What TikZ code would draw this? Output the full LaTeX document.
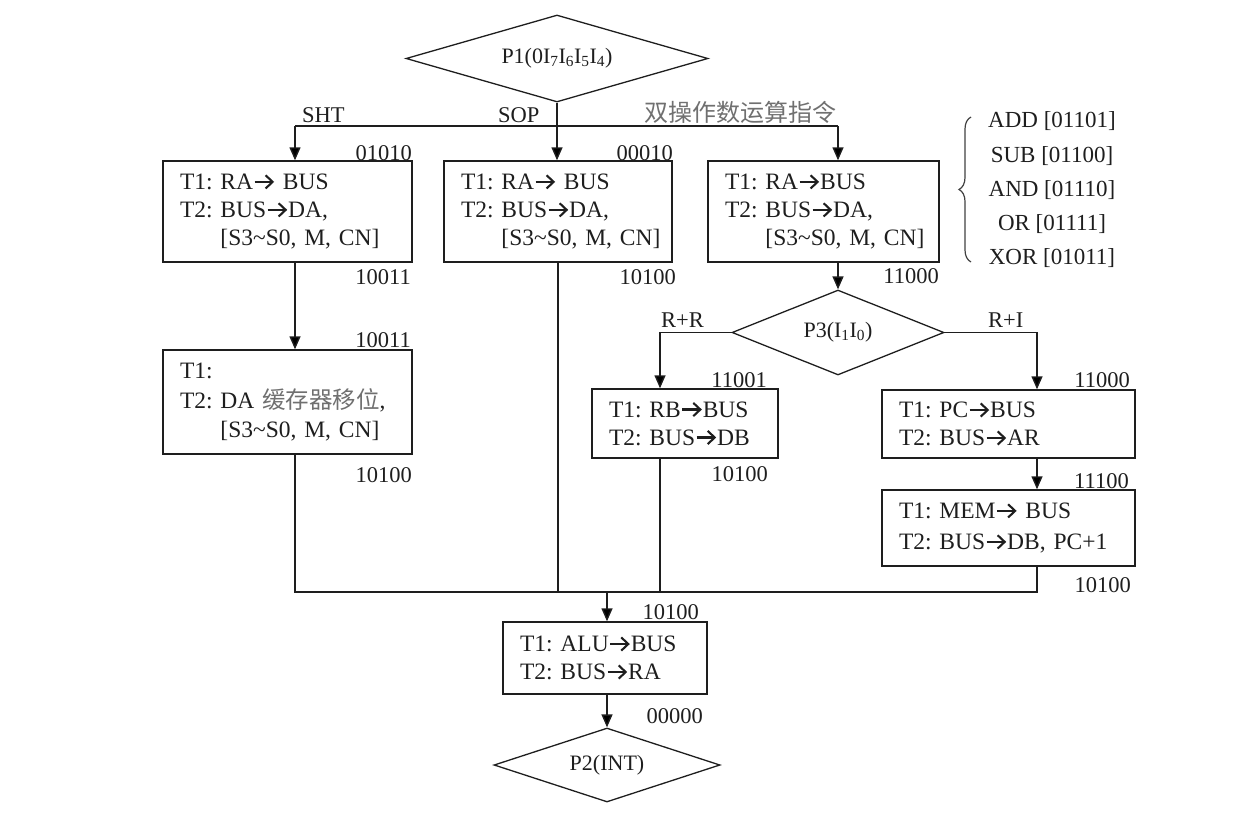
\documentclass[tikz,border=0pt]{standalone}
\usepackage{fontspec}
\setmainfont{Liberation Serif}
\newfontfamily\cjk{Noto Sans CJK SC}
\usetikzlibrary{arrows.meta,shapes.geometric,decorations.pathreplacing}
\definecolor{ink}{HTML}{1E1E1E}
\definecolor{cjkgray}{HTML}{707070}
\newcommand{\rarr}{\tikz[x=1pt,y=1pt,baseline=0pt]{%
  \useasboundingbox (0,0) rectangle (22,15);
  \draw[ink, line width=2.1pt] (1.5,7.6) -- (18.5,7.6);
  \draw[ink, line width=2.1pt, line join=miter] (12.5,14.2) -- (19.5,7.6) -- (12.5,1);}}
\newcommand{\tld}{\textasciitilde}
\frenchspacing
\begin{document}
\begin{tikzpicture}[x=1pt,y=-1pt,
  every node/.style={text=ink},
  box/.style={draw=ink, line width=1.4pt, inner xsep=17pt, inner ysep=0pt, align=left,
    font=\fontsize{23.5}{28}\selectfont\frenchspacing},
  dia/.style={draw=ink, line width=1.3pt, diamond, inner sep=0pt,
    font=\fontsize{22}{26}\selectfont},
  code/.style={inner sep=0pt, anchor=base east, font=\fontsize{22.5}{27}\selectfont},
  lbl/.style={inner sep=0pt, anchor=base west, font=\fontsize{22.5}{27}\selectfont},
  line/.style={draw=ink, line width=1.4pt},
  arr/.style={line, -{Triangle[length=13pt,width=11pt]}}]
\useasboundingbox (0,0) rectangle (1250,819);

% decisions
\node[dia, minimum width=302pt, minimum height=87pt, aspect=3.47] (P1) at (557,58.5) {P1(0I\textsubscript{7}I\textsubscript{6}I\textsubscript{5}I\textsubscript{4})};
\node[dia, minimum width=212pt, minimum height=85pt, aspect=2.49] (P3) at (838,332.5) {P3(I\textsubscript{1}I\textsubscript{0})};
\node[dia, minimum width=226pt, minimum height=74pt, aspect=3.05] (P2) at (607,765) {P2(INT)};

% boxes
\node[box, minimum width=249pt, minimum height=101pt, text width=215pt] (A) at (287.5,211.5)
  {\mbox{T1: RA\rarr{} BUS}\\\mbox{T2: BUS\rarr DA,}\\\mbox{\phantom{T2: }[S3\tld S0, M, CN]}};
\node[box, minimum width=228pt, minimum height=101pt, text width=194pt] (B) at (558,211.5)
  {\mbox{T1: RA\rarr{} BUS}\\\mbox{T2: BUS\rarr DA,}\\\mbox{\phantom{T2: }[S3\tld S0, M, CN]}};
\node[box, minimum width=231pt, minimum height=101pt, text width=197pt] (C) at (823.5,211.5)
  {\mbox{T1: RA\rarr BUS}\\\mbox{T2: BUS\rarr DA,}\\\mbox{\phantom{T2: }[S3\tld S0, M, CN]}};
\node[box, minimum width=249pt, minimum height=104pt, text width=215pt] (D) at (287.5,402)
  {\mbox{T1:}\\[2pt]\mbox{T2: DA {\cjk\color{cjkgray}缓存器移位},}\\[1pt]\mbox{\phantom{T2: }[S3\tld S0, M, CN]}};
\node[box, minimum width=186pt, minimum height=69pt, text width=152pt] (E) at (685,423.5)
  {\mbox{T1: RB\rarr BUS}\\\mbox{T2: BUS\rarr DB}};
\node[box, minimum width=253pt, minimum height=68pt, text width=219pt] (F) at (1008.5,424)
  {\mbox{T1: PC\rarr BUS}\\\mbox{T2: BUS\rarr AR}};
\node[box, minimum width=253pt, minimum height=76pt, text width=219pt] (G) at (1008.5,528)
  {\mbox{T1: MEM\rarr{} BUS}\\[3pt]\mbox{T2: BUS\rarr DB, PC+1}};
\node[box, minimum width=204pt, minimum height=72pt, text width=170pt] (H) at (605,658)
  {\mbox{T1: ALU\rarr BUS}\\\mbox{T2: BUS\rarr RA}};

% branch labels
\node[lbl] (tSHT) at (302,122) {SHT};
\node[lbl] (tSOP) at (498,122) {SOP};
\node[inner sep=0pt, anchor=east, font=\cjk\fontsize{24}{28}\selectfont, text=cjkgray] (tDual) at (837,112) {双操作数运算指令};
\node[lbl] (tRR) at (661,327) {R+R};
\node[lbl] (tRI) at (988,327) {R+I};

% codes
\node[code] (c1) at (412,160) {01010};
\node[code] (c2) at (673,160) {00010};
\node[code] (c3) at (411,284) {10011};
\node[code] (c4) at (676,284) {10100};
\node[code] (c5) at (939,283) {11000};
\node[code] (c6) at (411,347) {10011};
\node[code] (c7) at (412,482) {10100};
\node[code] (c8) at (767,387) {11001};
\node[code] (c9) at (768,481) {10100};
\node[code] (c10) at (1130,387) {11000};
\node[code] (c11) at (1129,488) {11100};
\node[code] (c12) at (1131,592) {10100};
\node[code] (c13) at (699,619) {10100};
\node[code] (c14) at (703,723) {00000};

% opcode list with brace
\node[inner sep=0pt, align=center, font=\fontsize{23}{34.25}\selectfont] (ops) at (1052,190)
  {ADD [01101]\\SUB [01100]\\AND [01110]\\OR [01111]\\XOR [01011]};
\coordinate (brB) at (971,262);
\coordinate (brT) at (971,117);
\draw[draw=ink!85, line width=1.2pt, decorate, decoration={brace, amplitude=12pt}] (brB) -- (brT);

% connectors
\coordinate (sA) at (295,126);
\coordinate (sC) at (838,126);
\coordinate (xE) at (660,0);
\coordinate (xF) at (1037,0);
\coordinate (bL) at (295,592);
\coordinate (bR) at (1037,592);
\coordinate (xH) at (607,592);

\draw[line] (sA) -- (sC);
\draw[arr] (P1.south) -- (P1.south |- B.north);
\draw[arr] (sA) -- (sA |- A.north);
\draw[arr] (sC) -- (sC |- C.north);
\draw[arr] (sA |- A.south) -- (sA |- D.north);
\draw[arr] (sC |- C.south) -- (P3.north);
\draw[arr] (P3.west) -| (xE |- E.north);
\draw[arr] (P3.east) -| (xF |- F.north);
\draw[arr] (xF |- F.south) -- (xF |- G.north);
\draw[line] (sA |- D.south) -- (bL) -- (bR) -- (xF |- G.south);
\draw[line] (B.south) -- (B.south |- bL);
\draw[line] (xE |- E.south) -- (xE |- bL);
\draw[arr] (xH) -- (xH |- H.north);
\draw[arr] (xH |- H.south) -- (P2.north);
\end{tikzpicture}
\end{document}
